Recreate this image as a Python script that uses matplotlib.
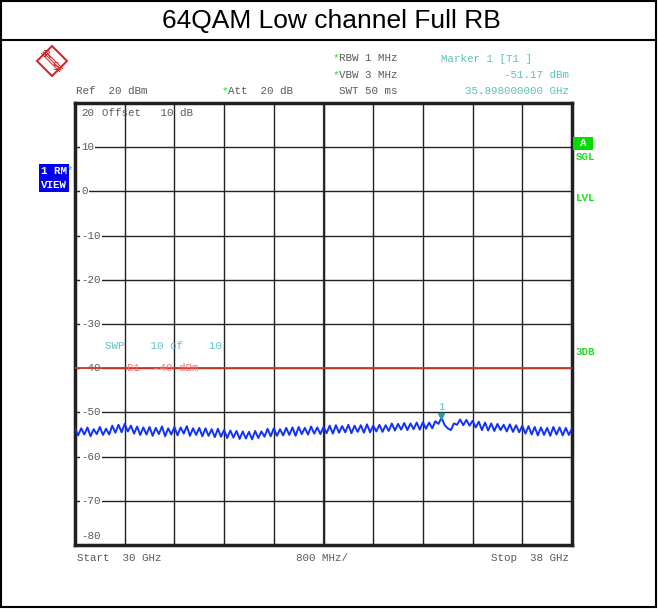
import numpy as np
import matplotlib
matplotlib.use("Agg")
import matplotlib.pyplot as plt
from matplotlib.patches import Polygon, Rectangle
from matplotlib.lines import Line2D

W, H = 658, 609

title = "64QAM Low channel Full RB"

# trace level (dBm), 30 GHz .. 38 GHz, 50 MHz per point
level = [
    -53.5, -55.2, -53.6, -55.0, -53.4, -55.4, -53.8, -54.9, -53.3, -55.1, -53.7,
    -55.0, -53.0, -54.6, -52.8, -54.5, -52.6, -54.3, -53.0, -54.8, -53.2,
    -55.1, -53.4, -55.0, -53.3, -55.3, -53.5, -54.9, -53.2, -55.4, -53.6,
    -55.0, -53.3, -55.2, -53.4, -54.8, -53.1, -55.3, -53.6, -55.1, -53.5,
    -55.4, -53.6, -55.3, -53.8, -55.6, -53.7, -55.5, -54.0, -55.8, -54.1,
    -55.7, -54.2, -56.0, -54.3, -55.9, -54.4, -56.1, -54.2, -55.8, -54.3,
    -55.5, -53.7, -55.4, -53.6, -55.3, -53.8, -55.2, -53.5, -55.1, -53.4,
    -55.3, -53.3, -54.9, -53.5, -55.0, -53.2, -54.8, -53.4, -54.9, -53.3,
    -54.7, -53.0, -54.8, -52.9, -54.6, -53.1, -54.5, -52.8, -54.7, -53.0,
    -54.4, -52.9, -54.6, -52.7, -54.5, -53.0, -54.3, -52.8, -54.4, -52.9,
    -54.2, -52.5, -54.1, -52.6, -53.9, -52.4, -54.0, -52.5, -53.8, -52.3,
    -53.9, -52.2, -53.7, -52.3, -53.6,
    -52.0, -52.6, -51.2, -52.9, -53.6,
    -54.0, -52.5, -52.8, -51.6, -52.9, -51.7, -53.0, -51.9, -53.4, -52.1,
    -54.0, -52.3, -54.1, -52.5, -54.2, -52.6, -54.0, -52.8, -54.3, -52.7,
    -54.4, -52.9, -54.5, -53.0, -54.8, -53.1,
    -55.0, -53.3, -55.2, -53.4, -55.1, -53.5, -55.3, -53.3, -55.0, -53.4,
    -55.2, -53.5, -55.1, -53.6,
]
f_start, f_stop = 30.0, 38.0
freq = np.linspace(f_start, f_stop, len(level))

marker_f = 35.898
marker_lvl = -51.17
d1_level = -40
y_ticks = [10, 0, -10, -20, -30, -40, -50, -60, -70]

GRAY = "#5a5a5a"
CYAN = "#5cc0c0"
GREEN = "#22dd22"
RED = "#d02020"
MONO = "Liberation Mono"
FS = 7.8


def fx(x):
    return x / W


def fy(y):
    return 1 - y / H


fig = plt.figure(figsize=(W / 100, H / 100), dpi=100)

# outer frame and title
fig.patches.append(Rectangle((fx(1), fy(607)), fx(655), 606 / H, transform=fig.transFigure,
                             fill=False, lw=1.5, ec="black"))
fig.lines.append(Line2D([fx(1), fx(656)], [fy(40), fy(40)], transform=fig.transFigure,
                        color="black", lw=1.5))
fig.text(fx(331), fy(21), title, ha="center", va="center", fontsize=19,
         family="Liberation Sans")

# R&S logo
cx, cy, r = 52, 61, 15
fig.patches.append(Polygon([(fx(cx), fy(cy - r)), (fx(cx + r), fy(cy)),
                            (fx(cx), fy(cy + r)), (fx(cx - r), fy(cy))],
                           closed=True, transform=fig.transFigure, fill=False,
                           ec=RED, lw=1.4))
for k in (-1.5, 0, 1.5):
    fig.lines.append(Line2D([fx(cx - 9 + k), fx(cx + 9 + k)], [fy(cy - 9 - k), fy(cy + 9 - k)],
                            transform=fig.transFigure, color=RED, lw=0.7))
fig.text(fx(cx - 4), fy(cy - 6), "R", color=RED, fontsize=7.5, ha="center",
         va="center", family="DejaVu Sans")
fig.text(fx(cx + 4), fy(cy + 6), "S", color=RED, fontsize=7.5, ha="center",
         va="center", family="DejaVu Sans")


def mono(x, y, s, color=GRAY, ha="left", **kw):
    fig.text(fx(x), fy(y), s, color=color, ha=ha, va="center", fontsize=FS,
             family=MONO, **kw)


# header texts
mono(76, 91, "Ref  20 dBm")
mono(222, 91, "*", color=GREEN)
mono(228, 91, "Att  20 dB")
mono(333, 58, "*", color=GREEN)
mono(339, 58, "RBW 1 MHz")
mono(333, 75, "*", color=GREEN)
mono(339, 75, "VBW 3 MHz")
mono(339, 91, "SWT 50 ms")
mono(441, 59, "Marker 1 [T1 ]", color=CYAN)
mono(569, 75, "%.2f dBm" % marker_lvl, color=CYAN, ha="right")
mono(569, 91, "%.9f GHz" % marker_f, color=CYAN, ha="right")

# footer texts
mono(77, 558, "Start  30 GHz")
mono(322, 558, "800 MHz/", ha="center")
mono(569, 558, "Stop  38 GHz", ha="right")

# left side boxes
mono(41, 171, "1 RM", color="white", weight="bold",
     bbox=dict(boxstyle="square,pad=0.15", fc="#0000ee", ec="none"))
mono(67, 170, "*", color=GREEN)
mono(41, 185, "VIEW", color="white", weight="bold",
     bbox=dict(boxstyle="square,pad=0.15", fc="#0000ee", ec="none"))

# right side status
fig.patches.append(Rectangle((fx(573), fy(150)), 20 / W, 13 / H, transform=fig.transFigure,
                             fc="#00dd00", ec="none"))
mono(583, 143, "A", color="white", ha="center", weight="bold")
mono(576, 157, "SGL", color=GREEN, weight="bold")
mono(576, 198, "LVL", color=GREEN, weight="bold")
mono(576, 352, "3DB", color=GREEN, weight="bold")

# spectrum axes
ax = fig.add_axes([fx(75), fy(545), 497 / W, 442 / H])
ax.set_xlim(f_start, f_stop)
ax.set_ylim(-80, 20)
ax.set_xticks(np.linspace(f_start, f_stop, 11))
ax.set_yticks(np.arange(-80, 21, 10))
ax.grid(True, color="#222222", lw=1.0)
ax.tick_params(length=0, labelbottom=False, labelleft=False)
for s in ax.spines.values():
    s.set_linewidth(2.5)
    s.set_color("#202020")
ax.axvline((f_start + f_stop) / 2, color="#333333", lw=1.6, zorder=0.6)

for v in y_ticks:
    ax.text(0.012, v, str(v), transform=ax.get_yaxis_transform(), color=GRAY,
            fontsize=FS, family=MONO, va="center", ha="left",
            bbox=dict(boxstyle="square,pad=0.1", fc="white", ec="none"))
ax.text(0.012, -78, "-80", transform=ax.get_yaxis_transform(), color=GRAY,
        fontsize=FS, family=MONO, va="center", ha="left")
ax.text(0.012, 17.7, "20", transform=ax.get_yaxis_transform(), color=GRAY,
        fontsize=FS, family=MONO, va="center", ha="left")
ax.text(0.055, 17.7, "Offset   10 dB", transform=ax.get_yaxis_transform(), color=GRAY,
        fontsize=FS, family=MONO, va="center", ha="left")
ax.text(0.06, -35.0, "SWP    10 of    10", transform=ax.get_yaxis_transform(),
        color=CYAN, fontsize=FS, family=MONO, va="center", ha="left")

# display line D1
ax.axhline(d1_level, color="#cc3a2a", lw=1.3, zorder=4)
ax.text(0.105, d1_level, "D1  -40 dBm", transform=ax.get_yaxis_transform(),
        color="#ff7070", fontsize=FS, family=MONO, va="center", ha="left", zorder=5)

# trace
ax.plot(freq, level, color="#1030ff", lw=1.4, zorder=3)

# marker
ax.plot([marker_f], [marker_lvl + 0.3], marker="v", color="#20a0a8", ms=5, zorder=6,
        linestyle="none")
ax.text(marker_f, marker_lvl + 2.5, "1", color=CYAN, fontsize=FS, family=MONO,
        ha="center", va="center")

fig.savefig("out.png", dpi=100)
